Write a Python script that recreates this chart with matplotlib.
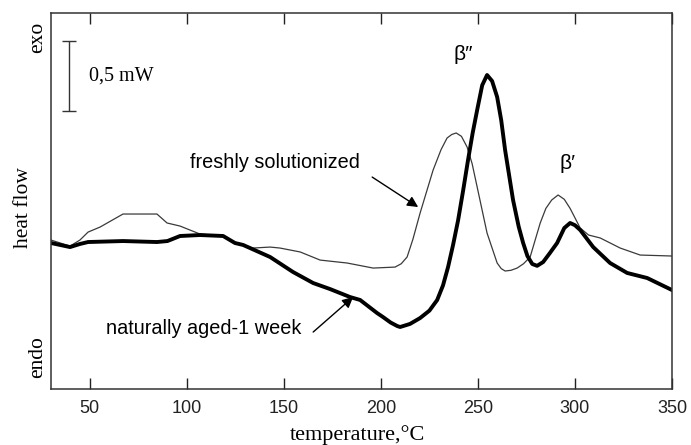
import matplotlib
matplotlib.use("Agg")
import matplotlib.pyplot as plt

# DSC traces: temperature (C) and heat flow (mW, arbitrary offset)
t_fresh = [30, 39.8, 44.9, 49.1, 55.3, 67.1, 84.6, 89.8, 96.5, 106.8, 118.7, 124.8,
           134.1, 142.9, 148, 158.4, 168.7, 182.6, 196, 207.3, 210.5, 213.5, 216.5, 220.2,
           226.9, 231, 234.1, 236.5, 238.8, 241.5, 244.4, 247, 249.6, 254.7, 259.9, 262,
           264, 267, 270.2, 273.5, 276.9, 282.1, 285, 288, 291.3, 294.5, 297.5, 302.7, 307,
           313, 323.3, 333.6, 350]
hf_fresh = [1.064, 1.021, 1.064, 1.121, 1.157, 1.250, 1.250, 1.186, 1.164, 1.107, 1.093, 1.043,
            1.007, 1.014, 1.007, 0.979, 0.921, 0.900, 0.864, 0.871, 0.895, 0.943, 1.070, 1.257,
            1.564, 1.710, 1.793, 1.818, 1.829, 1.805, 1.729, 1.610, 1.443, 1.114, 0.900, 0.860,
            0.843, 0.848, 0.864, 0.895, 0.943, 1.186, 1.290, 1.350, 1.386, 1.355, 1.290, 1.150,
            1.100, 1.079, 1.007, 0.957, 0.950]

t_aged = [30, 39.8, 44.9, 49.1, 67.1, 84.6, 90, 96.5, 106.8, 118.7, 124.8, 129,
          142.9, 154.7, 165.1, 173.8, 184.1, 189.3, 198, 201.1, 205, 208.4, 209.9, 215,
          220.2, 225, 229, 232, 234.6, 237.2, 239.8, 242.4, 244.9, 247.3, 249.6, 252.2,
          254.7, 257.3, 259.9, 262, 264, 268.1, 271, 273.3, 275.5, 278, 280.5, 283.6,
          287, 290.8, 294.5, 297.5, 300, 302.7, 309.4, 318.1, 326.9, 337.2, 350]
hf_aged = [1.043, 1.014, 1.036, 1.050, 1.057, 1.050, 1.057, 1.093, 1.100, 1.093, 1.043, 1.029,
           0.943, 0.836, 0.757, 0.714, 0.657, 0.636, 0.543, 0.514, 0.475, 0.450, 0.443, 0.465,
           0.507, 0.560, 0.636, 0.740, 0.871, 1.030, 1.207, 1.420, 1.636, 1.830, 1.993, 2.170,
           2.243, 2.200, 2.086, 1.920, 1.707, 1.350, 1.160, 1.043, 0.950, 0.893, 0.880, 0.907,
           0.970, 1.043, 1.150, 1.186, 1.170, 1.136, 1.014, 0.900, 0.829, 0.793, 0.707]

x_ticks = [50, 100, 150, 200, 250, 300, 350]

serif = "Liberation Serif"
sans = ["Liberation Sans", "DejaVu Sans"]

fig = plt.figure(figsize=(6.91, 4.45), dpi=100)
ax = fig.add_axes([0.0738, 0.1258, 0.8987, 0.845])

ax.plot(t_fresh, hf_fresh, color="#3a3a3a", linewidth=0.9)
ax.plot(t_aged, hf_aged, color="black", linewidth=2.8, solid_joinstyle="round")

ax.set_xlim(30, 350)
ax.set_ylim(0, 2.686)
ax.set_xticks(x_ticks)
ax.set_yticks([])
ax.tick_params(axis="x", direction="in", length=8, width=1, top=True,
               labelsize=13, pad=8, colors="#222222")
for lbl in ax.get_xticklabels():
    lbl.set_family(sans)
for s in ax.spines.values():
    s.set_linewidth(1.1)
    s.set_color("#333333")

# scale bar 0,5 mW
ax.errorbar([39.3], [2.236], yerr=[0.25], color="#333333", linewidth=1, capsize=5, capthick=1)
ax.text(49.6, 2.236, "0,5 mW", family=serif, fontsize=14.5, va="center", ha="left")

# peak labels
ax.text(242.4, 2.386, "β″", family=sans, fontsize=15, ha="center", va="center")
ax.text(296, 1.614, "β′", family=sans, fontsize=15, ha="center", va="center")

# curve annotations
ax.annotate("", xy=(219.2, 1.30), xytext=(195.5, 1.514),
            arrowprops=dict(arrowstyle="-|>", color="black", lw=1, mutation_scale=16,
                            shrinkA=0, shrinkB=0))
ax.text(101.6, 1.621, "freshly solutionized", family=sans, fontsize=14.3, va="center", ha="left")
ax.annotate("", xy=(185.7, 0.657), xytext=(165.1, 0.407),
            arrowprops=dict(arrowstyle="-|>", color="black", lw=1, mutation_scale=16,
                            shrinkA=0, shrinkB=0))
ax.text(58.4, 0.429, "naturally aged-1 week", family=sans, fontsize=14.3, va="center", ha="left")

# axis labels
fig.text(0.055, 0.917, "exo", family=serif, fontsize=15.5, rotation=90, ha="center", va="center")
fig.text(0.0347, 0.533, "heat flow", family=serif, fontsize=15.5, rotation=90, ha="center", va="center")
fig.text(0.055, 0.198, "endo", family=serif, fontsize=15.5, rotation=90, ha="center", va="center")
fig.text(0.518, 0.0225, "temperature,°C", family=serif, fontsize=16, ha="center", va="center")

fig.savefig("out.png", dpi=100)
